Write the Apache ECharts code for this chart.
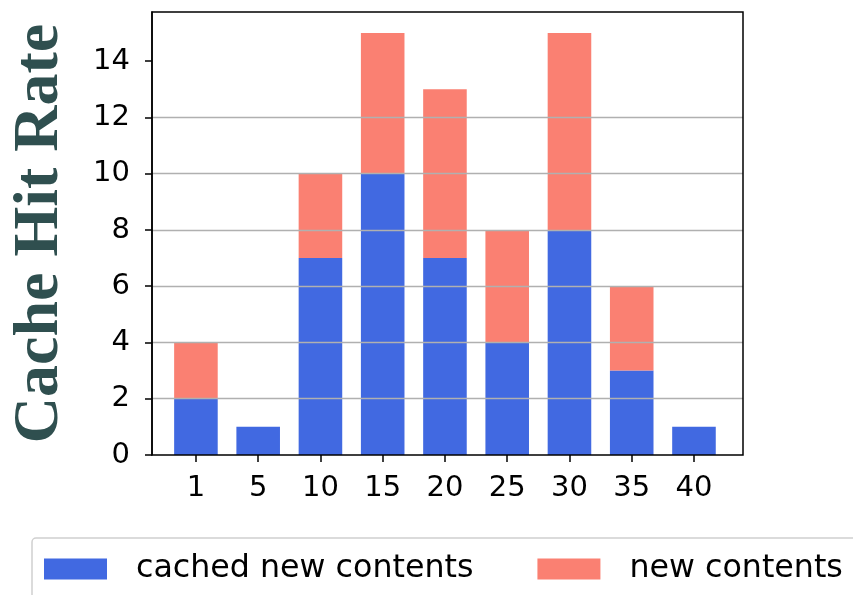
<!DOCTYPE html>
<html>
<head>
<meta charset="utf-8">
<script src="https://cdn.jsdelivr.net/npm/echarts@6/dist/echarts.min.js"></script>
<style>
html,body{margin:0;padding:0;background:#fff;}
#chart{width:853px;height:595px;}
</style>
</head>
<body>
<div id="chart"></div>
<script>
const categories = ['1','5','10','15','20','25','30','35','40'];
const cachedNew = [2,1,7,10,7,4,8,3,1];
const newOnly = [2,0,3,5,6,4,7,3,0];
const yTicks = [0,2,4,6,8,10,12,14];

const chart = echarts.init(document.getElementById('chart'));
const font = 'DejaVu Sans';
const Y_MAX = 15.75;
chart.setOption({
  animation:false,
  backgroundColor:'#fff',
  grid:[
    {left:147,right:110,top:12,bottom:140,show:true,borderColor:'#000',borderWidth:1.5,backgroundColor:'transparent',z:10},
    {left:164.8,width:560.3,top:12,bottom:140}
  ],
  legend:{
    left:32, top:538, width:830,
    data:['cached new contents','new contents'],
    itemWidth:63, itemHeight:21, itemGap:64,
    icon:'rect',
    borderColor:'#d0d0d0', borderWidth:1.5, borderRadius:4,
    padding:[15,20,25,12],
    textStyle:{fontFamily:font,fontSize:31.7,color:'#000',padding:[0,0,0,24]}
  },
  xAxis:[
    {type:'value',gridIndex:0,min:0,max:1,show:false},
    {type:'category',gridIndex:1,data:categories,
     axisLine:{show:false},
     axisTick:{show:true,alignWithLabel:true,length:7,lineStyle:{color:'#000',width:1.5}},
     axisLabel:{fontFamily:font,fontSize:29,color:'#000',margin:19},
     splitLine:{show:false}}
  ],
  yAxis:[
    {type:'value',gridIndex:0,min:0,max:Y_MAX,interval:2,z:5,
     name:'Cache Hit Rate',nameLocation:'middle',nameRotate:90,nameGap:80,
     nameTextStyle:{fontFamily:'Liberation Serif',fontWeight:'bold',fontSize:64,color:'#2F4F4F'},
     axisLine:{show:true,onZero:false,lineStyle:{color:'#000',width:1.5}},
     axisTick:{show:true,customValues:yTicks,length:7,lineStyle:{color:'#000',width:1.5}},
     axisLabel:{customValues:yTicks,fontFamily:font,fontSize:29,color:'#000',margin:22},
     splitLine:{show:true,showMinLine:false,showMaxLine:false,lineStyle:{color:'#b0b0b0',width:1.3}}},
    {type:'value',gridIndex:1,min:0,max:Y_MAX,show:false,splitLine:{show:false}}
  ],
  series:[
    {name:'cached new contents',type:'bar',stack:'s',barWidth:'70%',xAxisIndex:1,yAxisIndex:1,
     itemStyle:{color:'#4169E1'},data:cachedNew},
    {name:'new contents',type:'bar',stack:'s',barWidth:'70%',xAxisIndex:1,yAxisIndex:1,
     itemStyle:{color:'#FA8072'},data:newOnly}
  ]
});
</script>
</body>
</html>
